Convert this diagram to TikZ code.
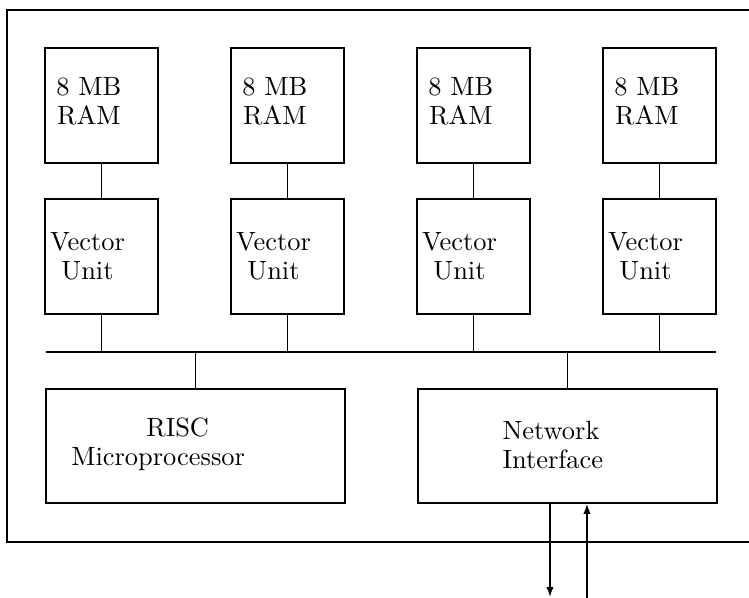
\documentclass[tikz,border=0pt]{standalone}
\usetikzlibrary{arrows.meta}
\begin{document}
\begin{tikzpicture}[x=0.75pt,y=-0.75pt,
  outer/.style={line width=2pt},
  unitbox/.style={draw,line width=1.2pt,inner sep=0pt,minimum width=84.75pt,minimum height=86.25pt},
  widebox/.style={draw,line width=1.2pt,inner sep=0pt,minimum width=224.25pt,minimum height=85.5pt},
  txt/.style={align=center,font=\fontsize{10}{11}\selectfont},
  conn/.style={line width=0.9pt},
  busline/.style={line width=1.6pt},
  arr/.style={line width=1.1pt,-{Latex[length=7.5pt,width=5.5pt]}}]
\useasboundingbox (0,0) rectangle (749,598);
% outer frame (right side cut off by the page edge)
\draw[outer] (749,10) -- (7,10) -- (7,542) -- (749,542);
% RAM and vector units
\foreach \i/\x in {1/101.5,2/287.5,3/473.5,4/659.5}{
  \node[unitbox,label={[txt,xshift=-9.5pt,yshift=3pt,scale=1.98]center:{8 MB\\RAM}}] (ram\i) at (\x,105.5) {};
  \node[unitbox,label={[txt,xshift=-10.5pt,yshift=0.5pt,scale=1.98]center:{Vector\\Unit}}] (vu\i) at (\x,256.5) {};
}
% bus
\coordinate (busL) at (46,352);
\coordinate (busR) at (716,352);
\draw[busline] (busL) -- (busR);
% lower boxes
\node[widebox,label={[txt,align=left,xshift=-28pt,yshift=1.5pt,scale=1.98]center:{\hspace*{28.4pt}RISC\\Microprocessor}}] (risc) at (195.5,446) {};
\node[widebox,label={[txt,align=left,xshift=-11pt,yshift=1pt,scale=1.98]center:{Network\\Interface}}] (ni) at (567.5,446) {};
% connectors
\foreach \i in {1,2,3,4}{
  \draw[conn] (ram\i.south) -- (vu\i.north);
  \draw[conn] (vu\i.south) -- (vu\i.south |- busL);
}
\draw[conn] (risc.north) -- (risc.north |- busL);
\draw[conn] (ni.north) -- (ni.north |- busL);
% external links
\coordinate (dn) at (550,597);
\coordinate (up) at (587,598);
\draw[arr] (dn |- ni.south) -- (dn);
\draw[arr] (up) -- (up |- ni.south);
\end{tikzpicture}
\end{document}
